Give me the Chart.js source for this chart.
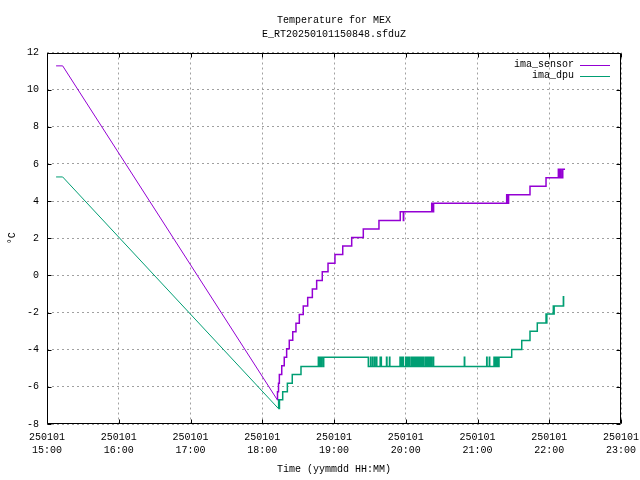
<!DOCTYPE html>
<html>
<head>
<meta charset="utf-8">
<script src="https://cdn.jsdelivr.net/npm/chart.js@4/dist/chart.umd.min.js"></script>
<style>
    body { margin: 0; background: #fff; }
</style>
</head>
<body>
<canvas id="chart" width="640" height="480"></canvas>
<script>
// x values are minutes after 250101 15:00
var dateLabel = '250101';
var hourLabels = ['15:00', '16:00', '17:00', '18:00', '19:00', '20:00', '21:00', '22:00', '23:00'];

// gap in the data: straight line from first sample to the next one
var sensorRampMin = [7.6, 13.1, 192.6];
var sensorRampTemp = [11.28, 11.28, -6.7];
var dpuRampMin = [7.6, 13.1, 193.4];
var dpuRampTemp = [5.3, 5.3, -7.16];

// each point = level that holds until the next point
var sensorMin = [192.6, 192.75, 193.6, 194.3, 196.3, 198.4, 200.4, 202.6, 205.5, 208.2,
    211.0, 214.3, 218.0, 221.9, 225.5, 230.2, 235.0, 240.8, 247.3, 254.8,
    264.5, 277.6, 295.4, 298.0, 298.3, 321.7, 322.1, 322.5, 322.9, 323.3,
    384.4, 384.8, 385.2, 385.6, 386.0, 403.9, 417.3, 427.6, 428.3, 429.4,
    430.0, 431.3, 433.2];
var sensorTemp = [-6.7, -6.26, -5.8, -5.33, -4.87, -4.41, -3.95, -3.49, -3.03, -2.57,
    -2.11, -1.65, -1.19, -0.73, -0.27, 0.2, 0.66, 1.12, 1.58, 2.04,
    2.5, 2.96, 3.42, 2.96, 3.42, 3.88, 3.42, 3.88, 3.42, 3.88,
    4.34, 3.88, 4.34, 3.88, 4.34, 4.8, 5.26, 5.72, 5.26, 5.72,
    5.26, 5.72, 5.72];

var dpuMin = [193.4, 193.7, 194.0, 194.4, 197.1, 201.0, 205.1, 212.4,
    226.9, 227.4, 227.9, 228.5, 229.0, 229.5, 229.8, 231.1, 231.4,
    268.7, 270.5, 270.8, 272.2, 272.5, 273.9, 274.2, 275.5, 275.8, 278.6, 279.6, 283.9, 284.3, 286.4, 286.7,
    295.2, 295.6, 296.0, 296.4, 296.8, 297.2, 297.6, 298.0, 299.9, 300.2, 300.8, 301.2, 301.6, 302.0, 302.4, 302.8, 303.2, 303.6,
    305.0, 305.5, 306.0, 306.5, 307.0, 307.5, 308.0, 308.5, 309.0, 309.5, 310.0, 310.5, 311.0, 311.5, 312.0, 312.5, 313.0, 313.5, 314.0, 314.7,
    316.1, 316.5, 317.0, 317.4, 318.0, 318.4, 319.2, 319.6, 320.0, 320.4, 321.3, 321.7,
    323.0, 323.3, 349.0, 349.3, 367.7, 368.0, 369.9, 370.2,
    373.8, 374.3, 374.8, 375.3, 375.8, 376.3, 376.8, 377.3, 378.0,
    388.6, 397.0, 403.9, 410.0,
    417.3, 417.6, 418.0, 423.4, 423.7, 424.1,
    431.8, 432.0, 432.6];
var dpuTemp = [-7.16, -6.7, -7.16, -6.7, -6.26, -5.81, -5.33, -4.9,
    -4.41, -4.9, -4.41, -4.9, -4.41, -4.9, -4.41, -4.9, -4.41,
    -4.9, -4.41, -4.9, -4.41, -4.9, -4.41, -4.9, -4.41, -4.9, -4.41, -4.9, -4.41, -4.9, -4.41, -4.9,
    -4.41, -4.9, -4.41, -4.9, -4.41, -4.9, -4.41, -4.9, -4.41, -4.9, -4.41, -4.9, -4.41, -4.9, -4.41, -4.9, -4.41, -4.9,
    -4.41, -4.9, -4.41, -4.9, -4.41, -4.9, -4.41, -4.9, -4.41, -4.9, -4.41, -4.9, -4.41, -4.9, -4.41, -4.9, -4.41, -4.9, -4.41, -4.9,
    -4.41, -4.9, -4.41, -4.9, -4.41, -4.9, -4.41, -4.9, -4.41, -4.9, -4.41, -4.9,
    -4.41, -4.9, -4.41, -4.9, -4.41, -4.9, -4.41, -4.9,
    -4.41, -4.9, -4.41, -4.9, -4.41, -4.9, -4.41, -4.9, -4.41,
    -3.99, -3.5, -3.01, -2.56,
    -2.08, -2.56, -2.08, -1.65, -2.08, -1.65,
    -1.15, -1.65, -1.65];

var purple = '#9400d3';
var green = '#009e73';
var fontFamily = '"Liberation Mono", "DejaVu Sans Mono", monospace';

function points(xs, ys) {
    return xs.map(function (x, i) { return { x: x, y: ys[i] }; });
}

// gnuplot style box with inner tick marks, and the key at top right
var framePlugin = {
    id: 'frame',
    afterDraw: function (chart) {
        var ctx = chart.ctx;
        var a = chart.chartArea;
        var sx = chart.scales.x;
        var sy = chart.scales.y;
        var l = Math.round(a.left) + 0.5, r = Math.round(a.right) - 0.5;
        var t = Math.round(a.top) + 0.5, b = Math.round(a.bottom) - 0.5;
        ctx.save();
        ctx.strokeStyle = '#000';
        ctx.lineWidth = 1;
        ctx.setLineDash([]);
        ctx.beginPath();
        ctx.rect(l, t, r - l, b - t);
        sx.ticks.forEach(function (tk) {
            var px = Math.round(sx.getPixelForValue(tk.value)) + 0.5;
            ctx.moveTo(px, b); ctx.lineTo(px, b - 4);
            ctx.moveTo(px, t); ctx.lineTo(px, t + 4);
        });
        sy.ticks.forEach(function (tk) {
            var py = Math.round(sy.getPixelForValue(tk.value)) + 0.5;
            ctx.moveTo(l, py); ctx.lineTo(l + 4, py);
            ctx.moveTo(r, py); ctx.lineTo(r - 4, py);
        });
        ctx.stroke();

        // key
        ctx.font = '10px ' + fontFamily;
        ctx.textAlign = 'right';
        ctx.textBaseline = 'middle';
        ctx.fillStyle = '#000';
        var row = 0;
        chart.data.datasets.slice().reverse().forEach(function (ds) {
            if (!ds.label) return;
            var y = a.top + 12 + row * 11;
            ctx.fillText(ds.label, a.right - 47, y);
            ctx.strokeStyle = ds.borderColor;
            ctx.beginPath();
            ctx.moveTo(a.right - 41, Math.round(y) + 0.5);
            ctx.lineTo(a.right - 11, Math.round(y) + 0.5);
            ctx.stroke();
            row++;
        });
        ctx.restore();
    }
};

var font = { family: fontFamily, size: 10, weight: 'normal' };

new Chart(document.getElementById('chart'), {
    type: 'line',
    data: {
        datasets: [{
            label: 'ima_dpu',
            data: points(dpuMin, dpuTemp),
            borderColor: green,
            borderWidth: 1.5,
            stepped: true,
            pointRadius: 0
        }, {
            data: points(dpuRampMin, dpuRampTemp),
            borderColor: green,
            borderWidth: 1,
            pointRadius: 0
        }, {
            label: 'ima_sensor',
            data: points(sensorMin, sensorTemp),
            borderColor: purple,
            borderWidth: 1.5,
            stepped: true,
            pointRadius: 0
        }, {
            data: points(sensorRampMin, sensorRampTemp),
            borderColor: purple,
            borderWidth: 1,
            pointRadius: 0
        }]
    },
    options: {
        responsive: false,
        animation: false,
        layout: { padding: { left: 0, right: 19, top: 0, bottom: 0 } },
        plugins: {
            legend: { display: false },
            tooltip: { enabled: false },
            title: {
                display: true,
                fullSize: false,
                text: ['Temperature for MEX', 'E_RT20250101150848.sfduZ'],
                color: '#000',
                font: { family: fontFamily, size: 10, weight: 'normal', lineHeight: 1.4 },
                padding: { top: 13, bottom: 11.5 }
            }
        },
        scales: {
            x: {
                type: 'linear',
                min: 0,
                max: 480,
                ticks: {
                    stepSize: 60,
                    autoSkip: false,
                    maxRotation: 0,
                    padding: 7,
                    color: '#000',
                    font: { family: fontFamily, size: 10, lineHeight: 1.3 },
                    callback: function (v, i) { return [dateLabel, hourLabels[i]]; }
                },
                grid: { color: '#a0a0a0', drawTicks: false },
                border: { display: false, dash: [2, 3] },
                title: {
                    display: true,
                    text: 'Time (yymmdd HH:MM)',
                    color: '#000',
                    font: font,
                    padding: { top: 0, bottom: 5 }
                },
                afterFit: function (s) {
                    s.height = 56;
                    s.paddingLeft = 0;
                    s.paddingRight = 0;
                }
            },
            y: {
                min: -8,
                max: 12,
                ticks: {
                    stepSize: 2,
                    padding: 8,
                    color: '#000',
                    font: font,
                    callback: function (v) { return String(v); }
                },
                grid: { color: '#a0a0a0', drawTicks: false },
                border: { display: false, dash: [2, 3] },
                title: {
                    display: true,
                    text: '°C',
                    color: '#000',
                    font: font,
                    padding: { top: 6, bottom: 0 }
                },
                afterFit: function (s) { s.width = 47; }
            }
        }
    },
    plugins: [framePlugin]
});
</script>
</body>
</html>
